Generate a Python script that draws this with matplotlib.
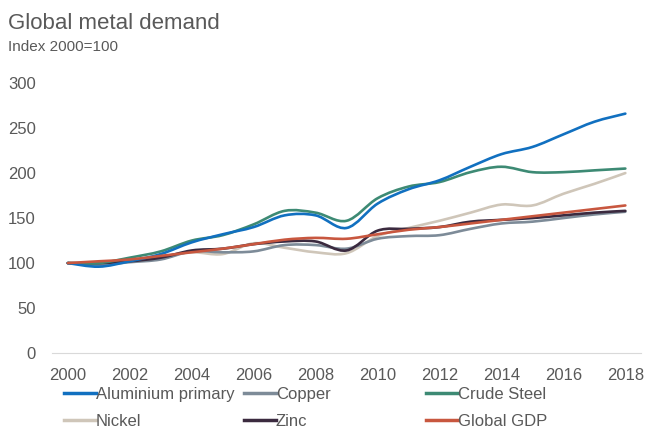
import numpy as np
import matplotlib.pyplot as plt
from matplotlib.path import Path
from matplotlib.patches import PathPatch
from matplotlib.lines import Line2D

plt.rcParams['font.family'] = ['Liberation Sans', 'DejaVu Sans']

years = list(range(2000, 2019))
aluminium = [100, 96, 102, 110, 123, 132, 140, 153, 153, 139, 166, 182, 192, 207, 221, 229, 243, 257, 266]
copper = [100, 98, 101, 104, 113, 112, 113, 120, 120, 116, 127, 130, 131, 138, 144, 146, 150, 154, 157]
steel = [100, 100, 106, 113, 125, 131, 143, 158, 156, 147, 172, 185, 190, 201, 207, 201, 201, 203, 205]
nickel = [100, 100, 102, 107, 112, 110, 122, 117, 112, 111, 130, 139, 147, 156, 165, 164, 177, 188, 200]
zinc = [100, 100, 102, 106, 114, 116, 121, 124, 124, 114, 136, 138, 140, 146, 148, 150, 153, 156, 158]
gdp = [100, 102, 104, 108, 112, 116, 121, 126, 128, 127, 132, 137, 140, 144, 148, 152, 156, 160, 164]

names = ['Aluminium primary', 'Copper', 'Crude Steel', 'Nickel', 'Zinc', 'Global GDP']
colors = ['#1170c0', '#7d8b98', '#3d8a74', '#cfc6b9', '#3b2a3f', '#c8573f']
series = [aluminium, copper, steel, nickel, zinc, gdp]


def smooth_path(x, y):
    # excel-like smoothed line as cubic bezier segments
    p = np.column_stack([x, y]).astype(float)
    ext = np.vstack([p[0], p, p[-1]])
    verts = [p[0]]
    codes = [Path.MOVETO]
    for i in range(len(p) - 1):
        c1 = ext[i + 1] + (ext[i + 2] - ext[i]) / 6
        c2 = ext[i + 2] - (ext[i + 3] - ext[i + 1]) / 6
        verts += [c1, c2, ext[i + 2]]
        codes += [Path.CURVE4] * 3
    return Path(verts, codes)


fig = plt.figure(figsize=(6.46, 4.28), dpi=100)
ax = fig.add_axes([0.081, 0.175, 0.911, 0.631])

order = [3, 1, 4, 2, 0, 5]
for i in order:
    patch = PathPatch(smooth_path(years, series[i]), fill=False,
                      edgecolor=colors[i], lw=1.9, capstyle='round')
    ax.add_patch(patch)

ax.set_xlim(1999.5, 2018.5)
ax.set_ylim(0, 300)
ax.set_xticks(range(2000, 2019, 2))
ax.set_yticks(range(0, 301, 50))
ax.tick_params(length=0, labelsize=12, colors='#595959')
ax.tick_params(axis='y', pad=12)
ax.tick_params(axis='x', pad=11)
for s in ['top', 'right', 'left']:
    ax.spines[s].set_visible(False)
ax.spines['bottom'].set_color('#d9d9d9')

fig.text(0.012, 0.933, 'Global metal demand', fontsize=16, color='#595959')
fig.text(0.012, 0.88, 'Index 2000=100', fontsize=11, color='#595959')

handles = [Line2D([], [], color=c, lw=2.5) for c in colors]
col_x = [0.105, 0.384, 0.666]
for j in range(3):
    fig.legend([handles[j], handles[j + 3]], [names[j], names[j + 3]],
               loc='upper left', bbox_to_anchor=(col_x[j] - 0.006, 0.096),
               frameon=False, fontsize=12, handlelength=1.9, handletextpad=0.0,
               labelspacing=0.72, borderaxespad=0, borderpad=0.0,
               labelcolor='#595959')

fig.savefig('out.png', dpi=100)
